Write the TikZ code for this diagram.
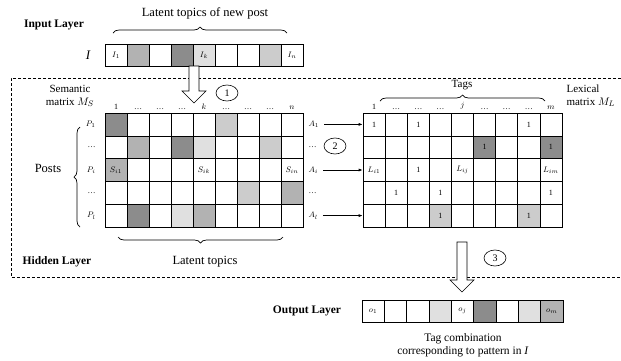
\documentclass[tikz,border=0pt]{standalone}
\usepackage{fontspec}
\setmainfont{Liberation Serif}
\usetikzlibrary{arrows.meta,positioning,calc,shapes.geometric,decorations.pathreplacing}

\definecolor{cdark}{gray}{0.55}
\definecolor{cmid}{gray}{0.70}
\definecolor{clight}{gray}{0.80}
\definecolor{cpale}{gray}{0.88}

\newcommand{\hollowarrow}[2]{%
  \draw[fat] let \p1=(#1), \p2=(#2) in
    (\x1-5pt,\y1) -- (\x1-5pt,\y2+12pt) -- (\x1-12pt,\y2+12pt) -- (\x1,\y2)
    -- (\x1+12pt,\y2+12pt) -- (\x1+5pt,\y2+12pt) -- (\x1+5pt,\y1) -- cycle;}

\tikzset{
  cell/.style={draw, line width=0.6pt, minimum width=22pt, minimum height=22.8pt,
    inner sep=0pt, font=\fontsize{8}{9}\selectfont},
  tick/.style={inner sep=1pt, font=\fontsize{8}{9}\selectfont},
  layer/.style={font=\fontsize{11.5}{13}\selectfont\bfseries},
  caption/.style={font=\fontsize{12.5}{14}\selectfont, align=center},
  side/.style={font=\fontsize{11}{12.5}\selectfont},
  num/.style={ellipse, draw, line width=0.6pt, minimum width=22pt, minimum height=16pt,
    inner sep=0pt, font=\fontsize{10}{11}\selectfont},
  fat/.style={draw, fill=white, line width=0.6pt},
  brace/.style={decorate, decoration={brace, amplitude=6pt}, line width=0.7pt},
  conn/.style={-{Latex[length=4pt,width=3pt]}, line width=0.7pt},
}

\begin{document}
\begin{tikzpicture}[x=1pt,y=-1pt]
\useasboundingbox (0,0) rectangle (621,360);

% hidden layer frame
\draw[line width=0.7pt, dash pattern=on 3pt off 2pt] (621,78) -- (11,78) -- (11,277) -- (621,277);

% input layer
\node[layer] (inlayer) at (54,25) {Input Layer};
\node[font=\fontsize{13}{14}\selectfont\itshape] (ivec) at (88,55) {I};
\foreach \f/\t [count=\c] in {white/$I_1$, cmid/, white/, cdark/, cpale/$I_k$, white/, white/, clight/, white/$I_n$}
  \node[cell, minimum height=22pt, fill=\f] (in-\c) at (94+22*\c, 55) {\t};
\draw[brace] (113,33) -- (287,33);
\node[caption] (intopics) at (205,13) {Latent topics of new post};

% semantic matrix
\node[side, align=center] (mslabel) at (70,96) {Semantic\\matrix $M_S$};
\foreach \r/\row in {
    1/{cdark/, white/, white/, white/, white/, clight/, white/, white/, white/},
    2/{white/, cmid/, white/, cdark/, cpale/, white/, white/, clight/, white/},
    3/{cmid/$S_{i1}$, white/, white/, white/, white/$S_{ik}$, white/, white/, white/, white/$S_{in}$},
    4/{white/, white/, white/, white/, white/, white/, clight/, white/, cmid/},
    5/{white/, cdark/, white/, cpale/, cmid/, white/, white/, white/, white/}}
  \foreach \f/\t [count=\c] in \row
    \node[cell, fill=\f] (s-\r-\c) at (94+22*\c, 101.6+22.8*\r) {\t};
\foreach \t [count=\c] in {1,\ldots,\ldots,\ldots,$k$,\ldots,\ldots,\ldots,$n$}
  \node[tick, above=2pt of s-1-\c] (sc-\c) {\t};
\foreach \t [count=\r] in {$P_1$,\ldots,$P_i$,\ldots,$P_l$}
  \node[tick, left=8pt of s-\r-1] (p-\r) {\t};
\foreach \t [count=\r] in {$A_1$,\ldots,$A_i$,\ldots,$A_l$}
  \node[tick, right=4pt of s-\r-9] (a-\r) {\t};
\draw[brace] (80,227) -- (80,127);
\node[caption] (posts) at (48,168) {Posts};
\draw[brace] (283,237) -- (118,237);
\node[caption] (topics) at (205,262) {Latent topics};
\node[layer] (hidlayer) at (57,262) {Hidden Layer};

% lexical matrix
\foreach \r/\row in {
    1/{white/1, white/, white/1, white/, white/, white/, white/, white/1, white/},
    2/{white/, white/, white/, white/, white/, cdark/1, white/, white/, cdark/1},
    3/{white/$L_{i1}$, white/, white/1, white/, white/$L_{ij}$, white/, white/, white/, white/$L_{im}$},
    4/{white/, white/1, white/, white/1, white/, white/, white/, white/, white/1},
    5/{white/, white/, white/, clight/1, white/, white/, white/, clight/1, white/}}
  \foreach \f/\t [count=\c] in \row
    \node[cell, minimum width=22.1pt, fill=\f] (l-\r-\c) at (351.95+22.1*\c, 101.6+22.8*\r) {\t};
\foreach \t [count=\c] in {1,\ldots,\ldots,\ldots,$j$,\ldots,\ldots,\ldots,$m$}
  \node[tick, above=2pt of l-1-\c] (lc-\c) {\t};
\draw[brace] (380,101) -- (545,101);
\node[side] (tags) at (462,85) {Tags};
\node[side, anchor=west, align=left] (mllabel) at (563,96) {Lexical\\matrix $M_L$};

% links between the matrices
\foreach \r in {1,3,5}
  \draw[conn, shorten <=4pt] (a-\r) -- (l-\r-1);

% steps
\node[num] (c1) at (227,93) {1};
\node[num] (c2) at (335,146) {2};
\node[num] (c3) at (495,258) {3};
\coordinate (f1a) at (194,66);
\coordinate (f1b) at (194,103);
\hollowarrow{f1a}{f1b}
\coordinate (f3a) at (462,242);
\coordinate (f3b) at (462,292);
\hollowarrow{f3a}{f3b}

% output layer
\node[layer] (outlayer) at (307,311) {Output Layer};
\foreach \f/\t [count=\c] in {white/$o_1$, white/, white/, cpale/, white/$o_j$, cdark/, white/, cpale/, cmid/$o_m$}
  \node[cell, minimum width=22.33pt, minimum height=22pt, fill=\f] (out-\c) at (350.8+22.33*\c, 311) {\t};
\node[caption, font=\fontsize{11.5}{13}\selectfont] (tagcomb) at (463,345)
  {Tag combination\\corresponding to pattern in \textit{I}};
\end{tikzpicture}
\end{document}
